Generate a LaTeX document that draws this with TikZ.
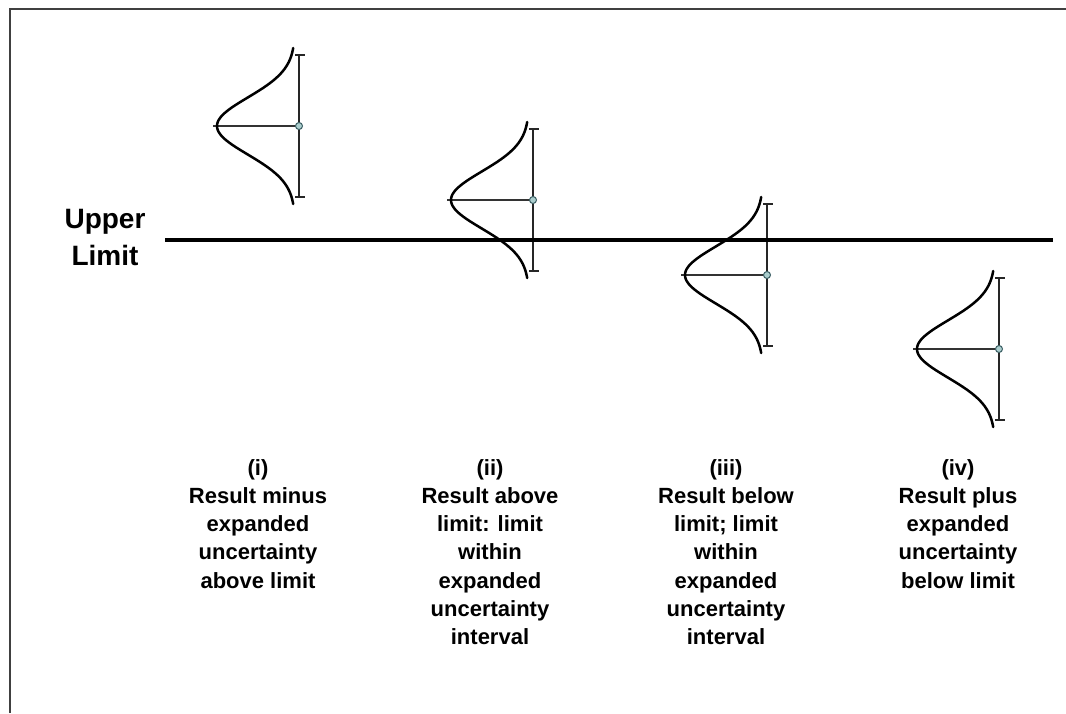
\documentclass[tikz,border=0pt]{standalone}
\usepackage{fontspec}
\setmainfont{Liberation Sans}
\tikzset{
  frame/.style={draw=black!75, line width=2pt},
  limitline/.style={draw=black, line width=4pt},
  curve/.style={draw=black, line width=2.5pt, line cap=round},
  bar/.style={draw=black!85, line width=1.5pt},
  midline/.style={draw=black!80, line width=1.3pt},
  result/.style={circle, draw={rgb,255:red,60;green,95;blue,100}, line width=1pt, fill={rgb,255:red,170;green,205;blue,205}, minimum size=7pt, inner sep=0pt},
  caption/.style={align=center, anchor=base, inner sep=0pt, font=\bfseries\fontsize{22}{28.3}\selectfont},
  ullabel/.style={align=center, anchor=base, inner sep=0pt, font=\bfseries\fontsize{28}{37}\selectfont}
}
\newcommand\distunit[3]{%
  \coordinate (#1top) at (#2,#3-71);
  \coordinate (#1bot) at (#2,#3+71);
  \coordinate (#1peak) at (#2-86,#3);
  \draw[midline] (#1peak) -- (#2,#3);
  \draw[bar] (#1top) -- (#1bot);
  \draw[bar] ([xshift=-4pt]#1top) -- ([xshift=6pt]#1top);
  \draw[bar] ([xshift=-4pt]#1bot) -- ([xshift=6pt]#1bot);
  \draw[curve] plot[domain=-78:78, samples=90, variable=\t, smooth] ({#2-4-78*exp(-(\t*\t)/1620)}, {#3+\t});
  \node[result] (#1res) at (#2,#3) {};
}
\begin{document}
\begin{tikzpicture}[x=1pt,y=-1pt]
\useasboundingbox (0,0) rectangle (1066,713);
\coordinate (fa) at (10,713);
\coordinate (fb) at (10,9);
\coordinate (fc) at (1066,9);
\draw[frame] (fa) -- (fb) -- (fc);

\distunit{a}{299}{126}
\distunit{b}{533}{200}
\distunit{c}{767}{275}
\distunit{d}{999}{349}

\coordinate (ulA) at (165,240);
\coordinate (ulB) at (1053,240);
\draw[limitline] (ulA) -- (ulB);

\node[ullabel] (ul) at (105,265) {Upper\\Limit};

\node[caption] (capi) at (258,588.2) {(i)\\Result minus\\expanded\\uncertainty\\above limit};
\node[caption] (capii) at (490,644.8) {(ii)\\Result above\\limit: limit\\within\\expanded\\uncertainty\\interval};
\node[caption] (capiii) at (726,644.8) {(iii)\\Result below\\limit; limit\\within\\expanded\\uncertainty\\interval};
\node[caption] (capiv) at (958,588.2) {(iv)\\Result plus\\expanded\\uncertainty\\below limit};
\end{tikzpicture}
\end{document}
